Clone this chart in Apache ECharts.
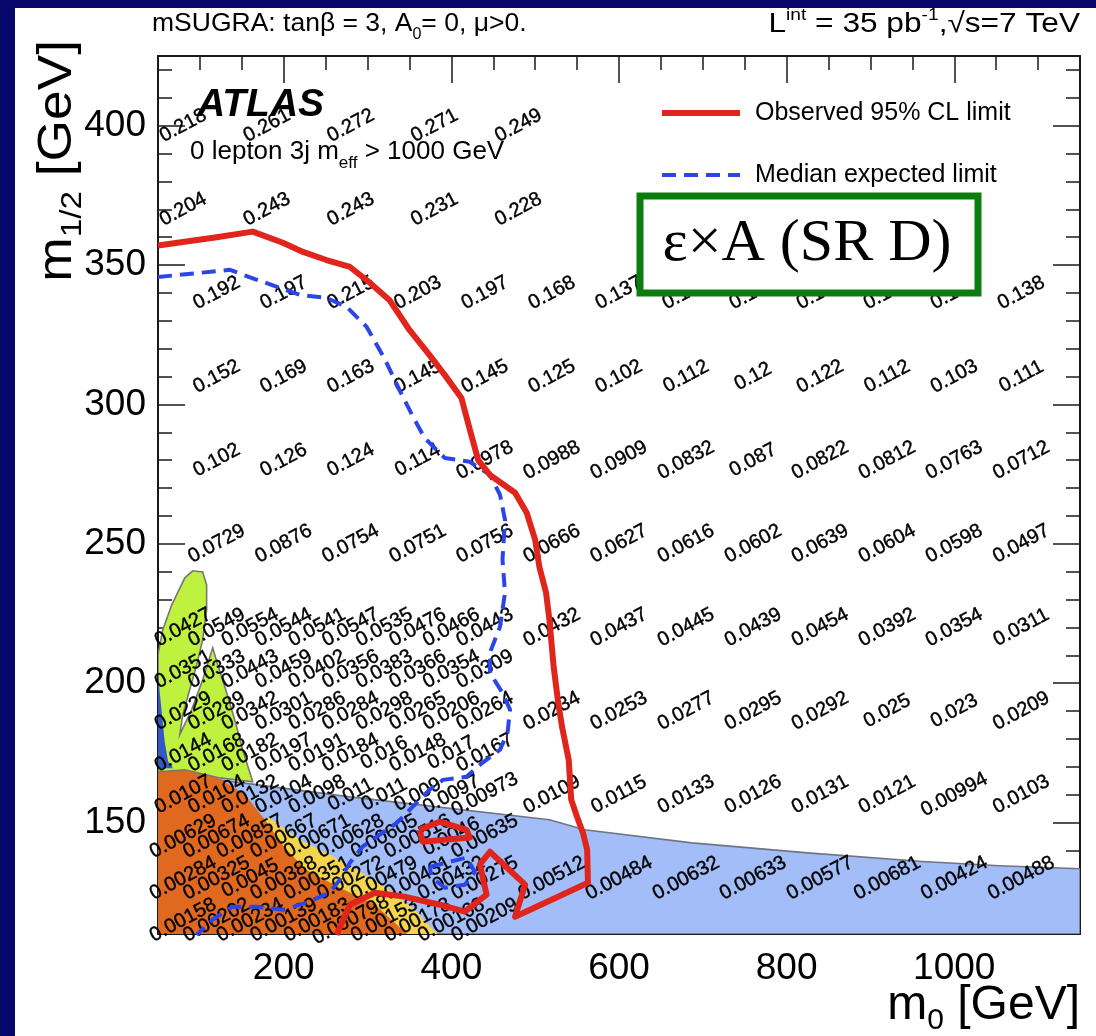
<!DOCTYPE html>
<html>
<head>
<meta charset="utf-8">
<script src="https://cdn.jsdelivr.net/npm/echarts@6/dist/echarts.min.js"></script>
<style>
  html, body { margin: 0; padding: 0; background: #ffffff; }
  #chart { width: 1096px; height: 1036px; }
</style>
</head>
<body>
<div id="chart"></div>
<script>
// ---- efficiency x acceptance values on the mSUGRA grid ----
// upper rows (m1/2 = 400, 370)
const topM0 = [80, 180, 280, 380, 480];
const eff400 = [0.218, 0.261, 0.272, 0.271, 0.249];
const eff370 = [0.204, 0.243, 0.243, 0.231, 0.228];

// full-width rows (m1/2 = 340 ... 250)
const fullM0 = [120, 200, 280, 360, 440, 520, 600, 680, 760, 840, 920, 1000, 1080];
const eff340 = [0.192, 0.197, 0.215, 0.203, 0.197, 0.168, 0.137, 0.135, 0.146, 0.146, 0.153, 0.149, 0.138];
const eff310 = [0.152, 0.169, 0.163, 0.145, 0.145, 0.125, 0.102, 0.112, 0.12, 0.122, 0.112, 0.103, 0.111];
const eff280 = [0.102, 0.126, 0.124, 0.114, 0.0978, 0.0988, 0.0909, 0.0832, 0.087, 0.0822, 0.0812, 0.0763, 0.0712];
const eff250 = [0.0729, 0.0876, 0.0754, 0.0751, 0.0756, 0.0666, 0.0627, 0.0616, 0.0602, 0.0639, 0.0604, 0.0598, 0.0497];

// high-m0 part of the lower rows (m1/2 = 220 ... 130)
const wideM0 = [520, 600, 680, 760, 840, 920, 1000, 1080];
const eff220w = [0.0432, 0.0437, 0.0445, 0.0439, 0.0454, 0.0392, 0.0354, 0.0311];
const eff190w = [0.0234, 0.0253, 0.0277, 0.0295, 0.0292, 0.025, 0.023, 0.0209];
const eff160w = [0.0109, 0.0115, 0.0133, 0.0126, 0.0131, 0.0121, 0.00994, 0.0103];
const eff130w = [0.00512, 0.00484, 0.00632, 0.00633, 0.00577, 0.00681, 0.00424, 0.00488];

// fine scan at low m0 / low m1/2
const fineM0 = [80, 120, 160, 200, 240, 280, 320, 360, 400, 440];
const eff220f = [0.0427, 0.0549, 0.0554, 0.0544, 0.0541, 0.0547, 0.0535, 0.0476, 0.0466, 0.0443];
const eff205f = [0.0351, 0.0333, 0.0443, 0.0459, 0.0402, 0.0356, 0.0383, 0.0366, 0.0354, 0.0309];
const eff190f = [0.0229, 0.0289, 0.0342, 0.0301, 0.0286, 0.0284, 0.0298, 0.0265, 0.0206, 0.0264];
const eff175f = [0.0144, 0.0168, 0.0182, 0.0197, 0.0191, 0.0184, 0.016, 0.0148, 0.017, 0.0167];
const eff160f = [0.0107, 0.0104, 0.0132, 0.0104, 0.0098, 0.011, 0.011, 0.009, 0.0097, 0.00973];
const eff145f = [0.00629, 0.00674, 0.00857, 0.00667, 0.00671, 0.00628, 0.00605, 0.00516, 0.0046, 0.00635];
const eff130f = [0.00284, 0.00325, 0.0045, 0.00388, 0.00351, 0.00272, 0.00479, 0.00431, 0.00432, 0.00275];
const eff115f = [0.00158, 0.00202, 0.00234, 0.00139, 0.00183, 0.000798, 0.00153, 0.00178, 0.00168, 0.00209];

// ---- limit contours (m0, m1/2) ----
const observedLimit = [
  [50, 357], [120, 360], [163, 362], [199, 358], [223, 354.7], [251, 351.8], [279, 349.3],
  [303, 343.6], [326, 337.5], [350, 326.7], [374, 317.7], [392, 310.6], [412, 302.3],
  [422, 291], [432, 280], [446, 274.7], [476, 268.3], [490, 261], [500, 251.4], [505, 241.7],
  [513, 232.4], [517, 222.7], [522, 206], [527, 194], [532, 184.4], [540, 172.5], [543, 158.2],
  [550, 152], [557, 146.3], [562, 140.2], [563, 128.4], [476, 116.2], [488, 127.7],
  [446, 139.5], [434, 135], [442, 124.1], [416, 118], [386, 120.5], [344, 123.4],
  [309, 124.8], [279, 120.5], [263, 109.7]
];
const observedIsland = [
  [362, 147.4], [386, 150.3], [418, 147.4], [422, 144.6], [392, 143.8], [366, 143.1], [362, 147.4]
];
const expectedLimit = [
  [50, 345.7], [136, 348.3], [159, 345.7], [192, 342.2], [219, 339.3], [251, 338.2], [275, 335],
  [299, 327.8], [321, 316], [338, 305.2], [353, 296.3], [368, 288], [392, 280.8], [422, 279.4],
  [446, 274.7], [458, 267.6], [464, 258.6], [461, 244.3], [464, 232.4], [458, 220.2],
  [446, 210.9], [446, 203.7], [461, 196.5], [470, 190.5], [467, 182.2], [458, 176.1],
  [437, 171.4], [418, 166.4], [390, 165.3], [374, 161.8], [354, 155.7], [335, 149.9],
  [318, 146.4], [294, 141.3], [279, 135.6], [267, 129.5], [255, 124.8], [227, 121.2],
  [199, 118.7], [168, 119.8], [139, 119.8], [115, 115.1], [96, 109.7]
];
const expectedIsland = [
  [374, 134.1], [418, 137.4], [428, 132.3], [416, 127.7], [392, 126.6], [377, 130.2], [374, 134.1]
];

// ---- shaded regions (m0, m1/2) ----
const lepRegion = [
  [50, 168], [80, 167], [279, 159.2], [517, 151], [559, 147.4], [687, 142.7], [825, 139.1],
  [962, 136], [1054, 134.5], [1150, 133.4], [1150, 110], [50, 110]
];
const yellowRegion = [
  [183, 151.7], [219, 143.8], [255, 138.4], [291, 132.3], [326, 125.9], [356, 118.7],
  [383, 110], [140, 110], [140, 150]
];
const orangeRegion = [
  [50, 169.6], [58, 170.5], [82, 170.3], [120, 166.4], [154, 160], [177.5, 151], [201, 141],
  [227, 133], [267, 126.6], [309, 120.5], [347, 110], [50, 110]
];
const darkBlueRegion = [
  [50, 205], [52, 197], [55, 188], [58, 179], [62, 172], [68, 169.5], [50, 169.5]
];
const greenRegion = [
  [50, 210.2], [55.6, 219.1], [66.4, 228.1], [82, 237.8], [91.4, 240.3], [103.3, 239.9],
  [108, 235.3], [108, 226.3], [103.3, 215.6], [96.2, 206.6], [87.8, 197.6], [79.5, 188.7],
  [76, 181.5], [90.2, 190.5], [103.3, 201.2], [115.3, 212.7], [121.2, 206.6], [130.8, 197.6],
  [141.5, 186.9], [151, 176.1], [163, 164.6], [123.6, 166], [82, 168.9], [50, 168.2]
];

// ---- axis ticks ----
const xMajorTicks = [200, 400, 600, 800, 1000];
const xMinorTicks = [100, 150, 250, 300, 350, 450, 500, 550, 650, 700, 750, 850, 900, 950, 1050, 1100];
const yMajorTicks = [150, 200, 250, 300, 350, 400];
const yMinorTicks = [120, 130, 140, 160, 170, 180, 190, 210, 220, 230, 240, 260, 270, 280, 290,
  310, 320, 330, 340, 360, 370, 380, 390, 410, 420];

function row(m0s, m12, effs) {
  return effs.map((e, i) => [m0s[i], m12, e]);
}
const cellLabels = [].concat(
  row(topM0, 400, eff400), row(topM0, 370, eff370),
  row(fullM0, 340, eff340), row(fullM0, 310, eff310), row(fullM0, 280, eff280), row(fullM0, 250, eff250),
  row(wideM0, 220, eff220w), row(wideM0, 190, eff190w), row(wideM0, 160, eff160w), row(wideM0, 130, eff130w),
  row(fineM0, 220, eff220f), row(fineM0, 205, eff205f), row(fineM0, 190, eff190f), row(fineM0, 175, eff175f),
  row(fineM0, 160, eff160f), row(fineM0, 145, eff145f), row(fineM0, 130, eff130f), row(fineM0, 115, eff115f)
);

const FONT = 'Liberation Sans, Arial, Helvetica, sans-serif';
const FRAME = '#1a1a1a';
const RED = '#e0261c';
const BLUE = '#2b45ea';

function region(name, pts, fill, stroke, z) {
  return {
    type: 'custom', name: name, coordinateSystem: 'cartesian2d',
    xAxisIndex: 0, yAxisIndex: 0, z: z, silent: true, clip: true,
    data: [pts[0]],
    renderItem: function (params, api) {
      return {
        type: 'polygon',
        shape: { points: pts.map(p => api.coord(p)) },
        style: { fill: fill, stroke: stroke || null, lineWidth: stroke ? 1.6 : 0 }
      };
    }
  };
}
function contour(name, pts, color, width, dash, z) {
  return {
    type: 'line', name: name, data: pts, xAxisIndex: 0, yAxisIndex: 0,
    symbol: 'none', showSymbol: false, silent: true, clip: true, z: z,
    lineStyle: { color: color, width: width, type: dash || 'solid', cap: 'butt', join: 'round' },
    emphasis: { disabled: true }
  };
}
function xAxis(pos, ticks, len, withLabels, withLine) {
  return {
    type: 'value', min: 50, max: 1150, position: pos,
    axisLine: { show: withLine, onZero: false, lineStyle: { color: FRAME, width: 2 } },
    axisTick: { show: true, inside: true, length: len, customValues: ticks, lineStyle: { color: FRAME, width: 1.5 } },
    axisLabel: withLabels
      ? { show: true, customValues: ticks, margin: 16, fontSize: 37, color: '#000', fontFamily: FONT,
          formatter: v => String(v) }
      : { show: false },
    splitLine: { show: false }
  };
}
function yAxis(pos, ticks, len, withLabels, withLine) {
  return {
    type: 'value', min: 110, max: 425, position: pos,
    axisLine: { show: withLine, onZero: false, lineStyle: { color: FRAME, width: 2 } },
    axisTick: { show: true, inside: true, length: len, customValues: ticks, lineStyle: { color: FRAME, width: 1.5 } },
    axisLabel: withLabels
      ? { show: true, customValues: ticks, margin: 12, fontSize: 37, color: '#000', fontFamily: FONT,
          formatter: v => String(v) }
      : { show: false },
    splitLine: { show: false }
  };
}

const chart = echarts.init(document.getElementById('chart'), null, { renderer: 'canvas' });
chart.setOption({
  backgroundColor: '#ffffff',
  animation: false,
  grid: { left: 158, right: 16, top: 56, bottom: 102, containLabel: false },
  xAxis: [
    xAxis('bottom', xMajorTicks, 27, true, true),
    xAxis('bottom', xMinorTicks, 14, false, false),
    xAxis('top', xMajorTicks, 27, false, true),
    xAxis('top', xMinorTicks, 14, false, false)
  ],
  yAxis: [
    yAxis('left', yMajorTicks, 27, true, true),
    yAxis('left', yMinorTicks, 14, false, false),
    yAxis('right', yMajorTicks, 27, false, true),
    yAxis('right', yMinorTicks, 14, false, false)
  ],
  series: [
    region('LEP', lepRegion, '#a2bdf7', '#6f7585', 1),
    region('yellow', yellowRegion, '#f3d64e', null, 2),
    region('orange', orangeRegion, '#e0691f', null, 3),
    region('green', greenRegion, '#bff23f', '#777777', 4),
    region('darkblue', darkBlueRegion, '#3558c8', null, 5),
    {
      type: 'scatter', name: 'cells', data: cellLabels, xAxisIndex: 0, yAxisIndex: 0,
      symbolSize: 1, itemStyle: { color: 'rgba(0,0,0,0)', opacity: 1 }, silent: true, clip: false, z: 6,
      emphasis: { disabled: true },
      label: {
        show: true, position: 'inside', rotate: 28, color: '#000',
        fontSize: 20, fontFamily: FONT, textBorderColor: '#000', textBorderWidth: 0.4,
        formatter: p => String(p.value[2])
      }
    },
    contour('Median expected limit', expectedLimit, BLUE, 4, [14, 8], 7),
    contour('expected island', expectedIsland, BLUE, 4, [14, 8], 7),
    contour('Observed 95% CL limit', observedLimit, RED, 6, 'solid', 8),
    contour('observed island', observedIsland, RED, 6, 'solid', 8)
  ],
  graphic: [
    { type: 'rect', shape: { x: 0, y: 0, width: 1096, height: 8 }, style: { fill: '#06066b' }, z: 100 },
    { type: 'rect', shape: { x: 0, y: 0, width: 15, height: 1036 }, style: { fill: '#06066b' }, z: 100 },
    {
      type: 'text', x: 152, y: 24, z: 100,
      style: {
        text: 'mSUGRA: tanβ = 3, A{sub|0}= 0, μ>0.', fill: '#000', fontSize: 26.5, fontFamily: FONT,
        align: 'left', verticalAlign: 'middle',
        rich: { sub: { fontSize: 16, fontFamily: FONT, padding: [22, 0, 0, 0] } }
      }
    },
    {
      type: 'text', x: 1080, y: 24, scaleX: 1.13, z: 100,
      style: {
        text: 'L{sup|int} = 35 pb{sup|-1},√s=7 TeV', fill: '#000', fontSize: 28, fontFamily: FONT,
        align: 'right', verticalAlign: 'middle',
        rich: { sup: { fontSize: 17, fontFamily: FONT, padding: [0, 0, 18, 0] } }
      }
    },
    {
      type: 'text', x: 197, y: 105, z: 100,
      style: { text: 'ATLAS', fill: '#000', font: 'italic bold 39px ' + FONT, align: 'left', verticalAlign: 'middle' }
    },
    {
      type: 'text', x: 190, y: 152, z: 100,
      style: {
        text: '0 lepton 3j m{sub|eff} > 1000 GeV', fill: '#000', fontSize: 26, fontFamily: FONT,
        align: 'left', verticalAlign: 'middle',
        rich: { sub: { fontSize: 17, fontFamily: FONT, padding: [22, 0, 0, 0] } }
      }
    },
    // legend
    { type: 'line', z: 100, shape: { x1: 662, y1: 113, x2: 740, y2: 113 }, style: { stroke: RED, lineWidth: 6 } },
    { type: 'text', x: 755, y: 113, z: 100, style: { text: 'Observed 95% CL limit', fill: '#000', fontSize: 25, fontFamily: FONT, align: 'left', verticalAlign: 'middle' } },
    { type: 'line', z: 100, shape: { x1: 662, y1: 175, x2: 740, y2: 175 }, style: { stroke: BLUE, lineWidth: 4, lineDash: [14, 8] } },
    { type: 'text', x: 755, y: 175, z: 100, style: { text: 'Median expected limit', fill: '#000', fontSize: 25, fontFamily: FONT, align: 'left', verticalAlign: 'middle' } },
    // signal-region tag
    { type: 'rect', z: 100, shape: { x: 640, y: 196, width: 338, height: 97 }, style: { fill: '#ffffff', stroke: '#0a7d0e', lineWidth: 7 } },
    { type: 'text', x: 807, y: 244, z: 101, style: { text: 'ε×A (SR D)', fill: '#000', fontSize: 60, fontFamily: 'Liberation Serif, Times New Roman, serif', align: 'center', verticalAlign: 'middle' } },
    // axis titles
    {
      type: 'text', x: 1080, y: 1006, z: 100,
      style: {
        text: 'm{sub|0} [GeV]', fill: '#000', fontSize: 48, fontFamily: FONT, align: 'right', verticalAlign: 'middle',
        rich: { sub: { fontSize: 30, fontFamily: FONT, padding: [30, 0, 0, 0] } }
      }
    },
    {
      type: 'text', x: 58, y: 40, rotation: Math.PI / 2, scaleX: 1.11, z: 100,
      style: {
        text: 'm{sub|1/2} [GeV]', fill: '#000', fontSize: 48, fontFamily: FONT, align: 'right', verticalAlign: 'middle',
        rich: { sub: { fontSize: 30, fontFamily: FONT, padding: [30, 0, 0, 0] } }
      }
    }
  ]
});
</script>
</body>
</html>
